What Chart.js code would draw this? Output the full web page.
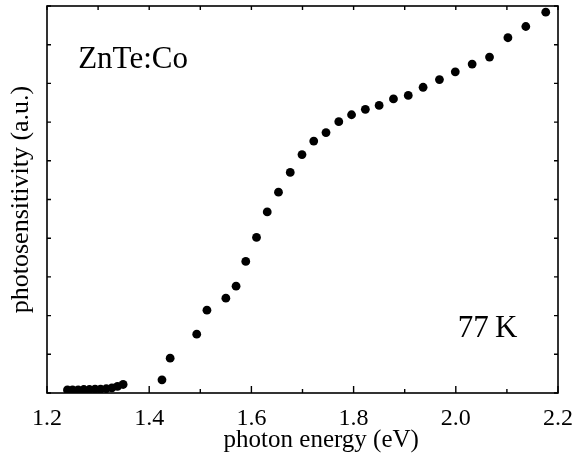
<!DOCTYPE html>
<html>
<head>
<meta charset="utf-8">
<script src="https://cdn.jsdelivr.net/npm/chart.js@4"></script>
<style>
    body { margin: 0; background: #fff; }
    #wrap { width: 575px; height: 453px; }
</style>
</head>
<body>
<div id="wrap"><canvas id="chartContainer" width="575" height="453"></canvas></div>
<script>
// photon energy (eV) of each measured point
var photonEnergy = [1.240, 1.250, 1.261, 1.272, 1.283, 1.294, 1.305, 1.316, 1.327, 1.338, 1.349,
    1.425, 1.441, 1.493, 1.513, 1.550, 1.570, 1.589, 1.610, 1.631, 1.653, 1.676, 1.699,
    1.722, 1.746, 1.771, 1.796, 1.823, 1.850, 1.878, 1.907, 1.936, 1.968, 1.999, 2.032,
    2.066, 2.102, 2.137, 2.176];
// photosensitivity (a.u.)
var photoSens = [0.08, 0.08, 0.08, 0.09, 0.09, 0.10, 0.10, 0.11, 0.13, 0.17, 0.22,
    0.34, 0.90, 1.52, 2.14, 2.45, 2.76, 3.40, 4.02, 4.68, 5.19, 5.70, 6.16,
    6.51, 6.73, 7.01, 7.19, 7.33, 7.43, 7.60, 7.69, 7.90, 8.10, 8.30, 8.50,
    8.68, 9.18, 9.47, 9.84];
var xTickLabels = ['1.2', '1.4', '1.6', '1.8', '2.0', '2.2'];
var sampleLabel = 'ZnTe:Co';
var tempLabel = '77\u2009K';

var serif = "'Liberation Serif', 'Times New Roman', serif";

var points = photonEnergy.map(function(e, i) {
    return { x: e, y: photoSens[i] };
});

// frame with inward ticks on all four sides
var framePlugin = {
    id: 'frame',
    beforeDatasetsDraw: function(chart) {
        var ctx = chart.ctx;
        var a = chart.chartArea;
        var xs = chart.scales.x;
        var ys = chart.scales.y;
        ctx.save();
        ctx.strokeStyle = '#000';
        ctx.lineWidth = 1.6;
        ctx.strokeRect(a.left, a.top, a.right - a.left, a.bottom - a.top);
        ctx.lineWidth = 1.4;
        ctx.beginPath();
        xs.ticks.forEach(function(t) {
            var px = xs.getPixelForValue(t.value);
            var major = xTickLabels.indexOf(t.value.toFixed(1)) >= 0;
            ctx.moveTo(px, a.bottom);
            ctx.lineTo(px, a.bottom - (major ? 7 : 4));
            ctx.moveTo(px, a.top);
            ctx.lineTo(px, a.top + 4);
        });
        ys.ticks.forEach(function(t) {
            var py = ys.getPixelForValue(t.value);
            ctx.moveTo(a.left, py);
            ctx.lineTo(a.left + 4, py);
            ctx.moveTo(a.right, py);
            ctx.lineTo(a.right - 4, py);
        });
        ctx.stroke();
        ctx.restore();
    },
    afterDatasetsDraw: function(chart) {
        var ctx = chart.ctx;
        var xs = chart.scales.x;
        var ys = chart.scales.y;
        ctx.save();
        ctx.fillStyle = '#000';
        ctx.font = '31px ' + serif;
        ctx.textBaseline = 'alphabetic';
        ctx.textAlign = 'left';
        ctx.fillText(sampleLabel, xs.getPixelForValue(1.261), ys.getPixelForValue(8.4));
        ctx.fillText(tempLabel, xs.getPixelForValue(2.004), ys.getPixelForValue(1.45));
        ctx.restore();
    }
};

var ctx = document.getElementById('chartContainer').getContext('2d');
new Chart(ctx, {
    type: 'scatter',
    data: {
        datasets: [{
            data: points,
            backgroundColor: '#000',
            borderColor: '#000',
            borderWidth: 0,
            pointRadius: 4.4
        }]
    },
    options: {
        responsive: false,
        animation: false,
        layout: { padding: { top: 6, right: 17, left: 0, bottom: 0 } },
        plugins: { legend: { display: false }, tooltip: { enabled: false } },
        scales: {
            x: {
                type: 'linear',
                min: 1.2,
                max: 2.2,
                grid: { display: false, drawTicks: false },
                border: { display: false },
                afterFit: function(scale) {
                    scale.height = 60;
                    scale.paddingLeft = 0;
                    scale.paddingRight = 0;
                },
                ticks: {
                    stepSize: 0.1,
                    autoSkip: false,
                    maxRotation: 0,
                    padding: 11,
                    color: '#000',
                    font: { family: serif, size: 24 },
                    callback: function(value) {
                        var s = Number(value).toFixed(1);
                        return xTickLabels.indexOf(s) >= 0 ? s : '';
                    }
                },
                title: {
                    display: true,
                    text: '      photon energy (eV)',
                    color: '#000',
                    font: { family: serif, size: 25, lineHeight: 1 },
                    padding: { top: 0, bottom: 0 }
                }
            },
            y: {
                min: 0,
                max: 10,
                grid: { display: false, drawTicks: false },
                border: { display: false },
                afterFit: function(scale) { scale.width = 47; },
                ticks: { stepSize: 1, display: false },
                title: {
                    display: true,
                    text: 'photosensitivity (a.u.)',
                    color: '#000',
                    font: { family: serif, size: 26, lineHeight: 1 },
                    padding: { top: 8, bottom: 0 }
                }
            }
        }
    },
    plugins: [framePlugin]
});
</script>
</body>
</html>
